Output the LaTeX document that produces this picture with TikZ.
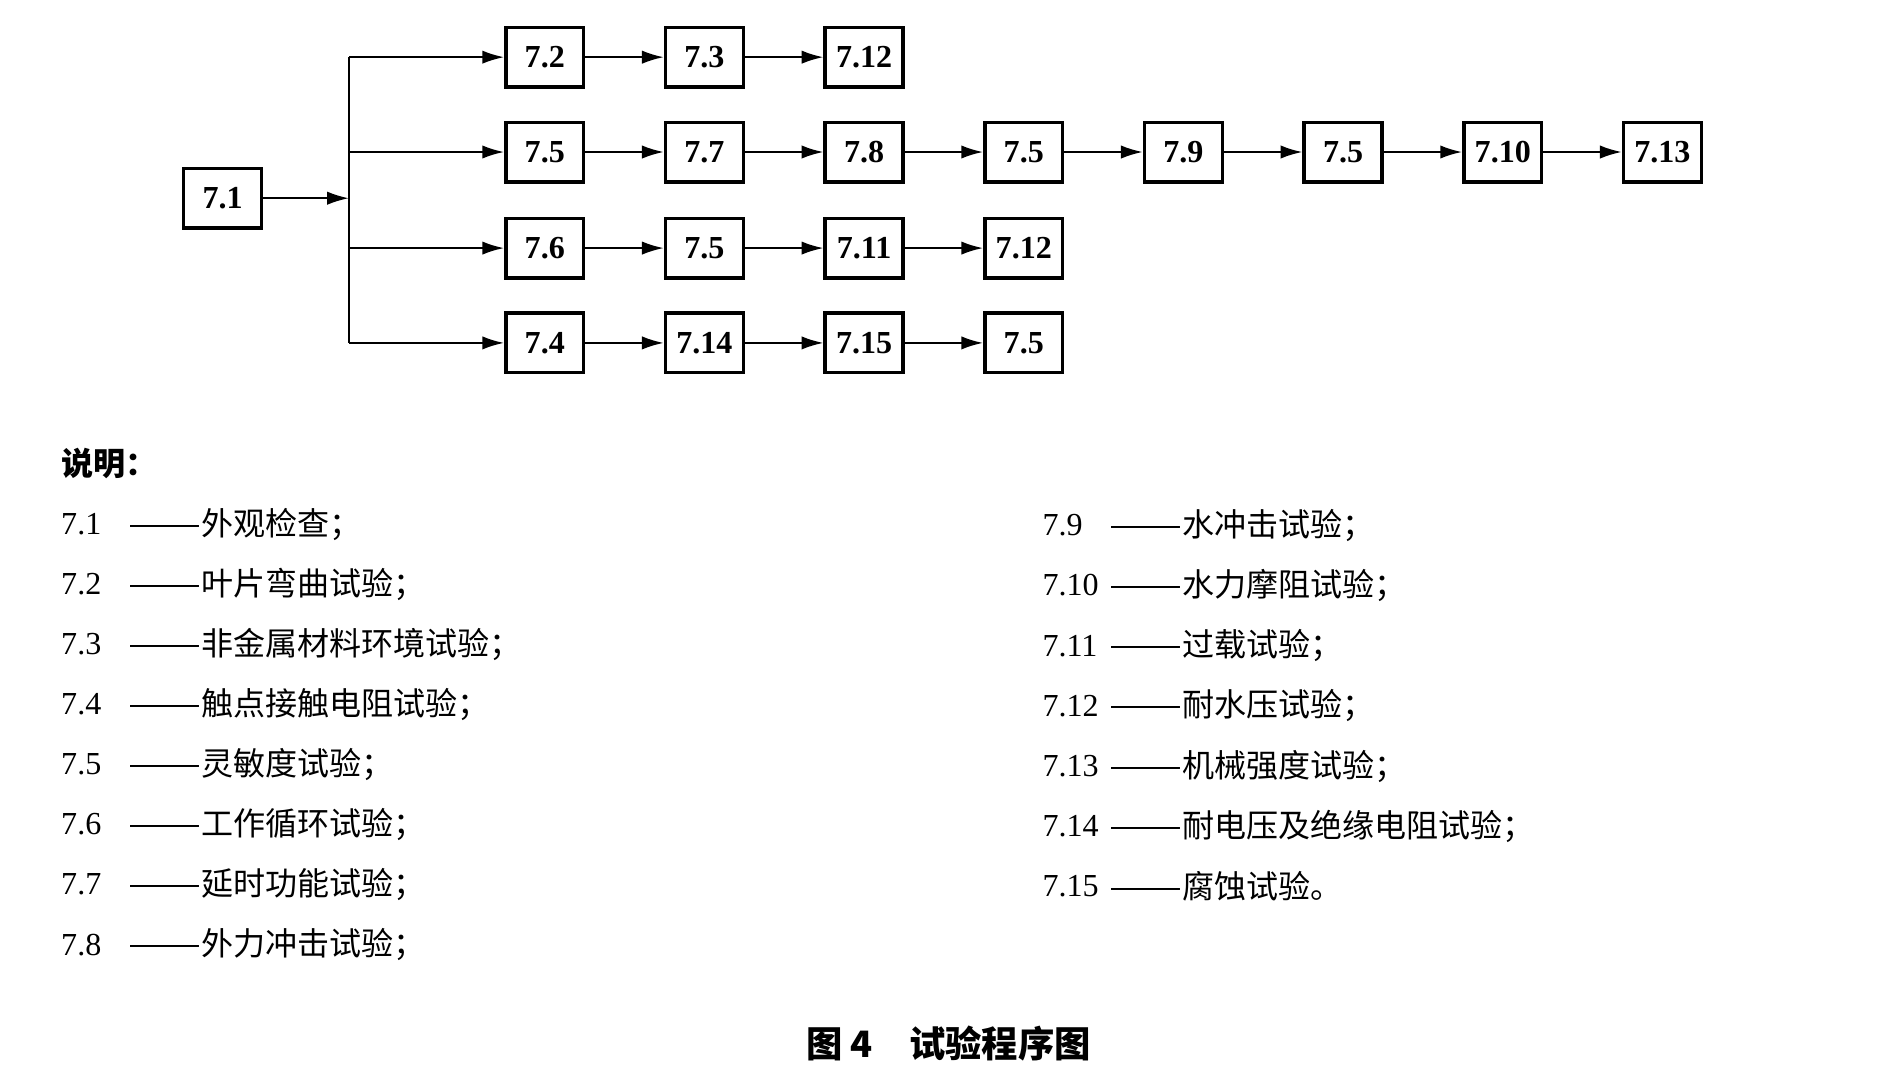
\documentclass[tikz,border=0pt]{standalone}
\usepackage{fontspec}
\setmainfont{Liberation Serif}
\newfontfamily\cjk{Noto Sans CJK SC}
\usetikzlibrary{arrows.meta,positioning}
\newcommand{\ldash}{\resizebox{12mm}{\height}{——}}
\tikzset{bx/.style={draw,line width=1.6pt,minimum width=12.8mm,minimum height=9.8mm,inner sep=0pt,font=\bfseries\fontsize{15}{15}\selectfont},
  ar/.style={-{Latex[length=3.6mm,width=2.2mm]},line width=1pt},
  leg/.style={anchor=west,inner sep=0pt,font=\fontsize{15}{15}\selectfont}}
\begin{document}
\begin{tikzpicture}[x=0.2mm,y=-0.2mm]
\useasboundingbox (0,0) rectangle (1560,884);
\node[bx] (s) at (183,163) {7.1};
\coordinate (bus) at (287,163);
\draw[ar] (s) -- (bus);
\draw[line width=1pt] (287,47) -- (287,282);
% rows of boxes
\foreach \r/\y/\lst in {a/47/{7.2,7.3,7.12},b/125/{7.5,7.7,7.8,7.5,7.9,7.5,7.10,7.13},c/204/{7.6,7.5,7.11,7.12},d/282/{7.4,7.14,7.15,7.5}}{
  \coordinate (\r0) at (287,\y);
  \foreach \t [count=\i, evaluate=\i as \j using int(\i-1), evaluate=\i as \xx using {448+131.3*(\i-1)}] in \lst {
    \node[bx] (\r\i) at (\xx,\y) {\t};
    \draw[ar] (\r\j) -- (\r\i);
  }
}
% legend
\node[leg,font=\cjk\bfseries\fontsize{15}{15}\selectfont] (t) at (50,381) {说明：};
\foreach \c/\s [count=\i] in {7.1/外观检查；,7.2/叶片弯曲试验；,7.3/非金属材料环境试验；,7.4/触点接触电阻试验；,7.5/灵敏度试验；,7.6/工作循环试验；,7.7/延时功能试验；,7.8/外力冲击试验；}{
  \node[leg] (l\i) at (50,431+49.4*\i-49.4) {\c};
  \node[leg] (m\i) at (105,431+49.4*\i-49.4) {\cjk\ldash\s};
}
\foreach \c/\s [count=\i] in {7.9/水冲击试验；,7.10/水力摩阻试验；,7.11/过载试验；,7.12/耐水压试验；,7.13/机械强度试验；,7.14/耐电压及绝缘电阻试验；,7.15/腐蚀试验。}{
  \node[leg] (r\i) at (857,432+49.5*\i-49.5) {\c};
  \node[leg] (q\i) at (912,432+49.5*\i-49.5) {\cjk\ldash\s};
}
\node[font=\cjk\bfseries\fontsize{17}{17}\selectfont] (cap) at (780,858) {图 4\quad 试验程序图};
\end{tikzpicture}
\end{document}
